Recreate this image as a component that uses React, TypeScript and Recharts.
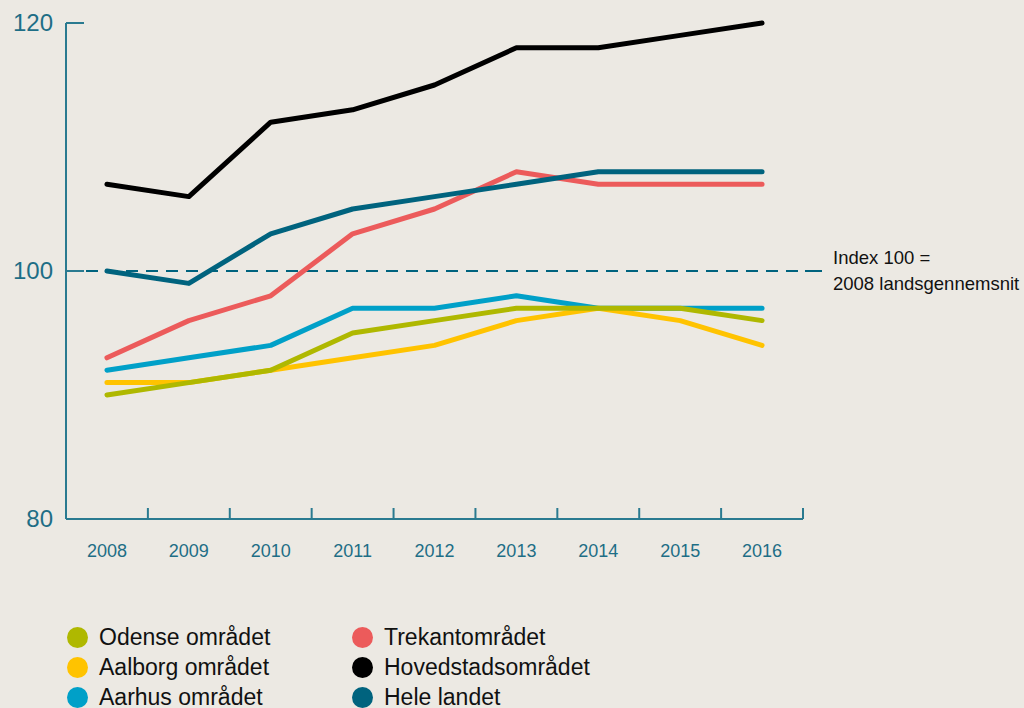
import { LineChart, Line, XAxis, YAxis, ReferenceLine } from "recharts";

const years = ["2008", "2009", "2010", "2011", "2012", "2013", "2014", "2015", "2016"];

const odense = [90, 91, 92, 95, 96, 97, 97, 97, 96];
const aalborg = [91, 91, 92, 93, 94, 96, 97, 96, 94];
const aarhus = [92, 93, 94, 97, 97, 98, 97, 97, 97];
const trekant = [93, 96, 98, 103, 105, 108, 107, 107, 107];
const hoved = [107, 106, 112, 113, 115, 118, 118, 119, 120];
const hele = [100, 99, 103, 105, 106, 107, 108, 108, 108];

const yTicks = [80, 100, 120];

const series = [
  { key: "odense", name: "Odense området", color: "#AFB800", values: odense },
  { key: "aalborg", name: "Aalborg området", color: "#FFC300", values: aalborg },
  { key: "aarhus", name: "Aarhus området", color: "#00A0C8", values: aarhus },
  { key: "trekant", name: "Trekantområdet", color: "#EC5B5B", values: trekant },
  { key: "hoved", name: "Hovedstadsområdet", color: "#000000", values: hoved },
  { key: "hele", name: "Hele landet", color: "#00637E", values: hele },
];

// draw order: lighter lines first, so olive sits over blue etc.
const drawOrder = ["aarhus", "aalborg", "odense", "trekant", "hele", "hoved"];

const data = years.map((year, i) => {
  const row: Record<string, string | number> = { year };
  series.forEach((s) => (row[s.key] = s.values[i]));
  return row;
});

const AXIS = "#2A7A90";
const TEXT = "#1E6E86";
const FONT = "'Liberation Sans', Arial, sans-serif";

const XTick = (props: any) => {
  const { x, y, payload } = props;
  const half = payload?.offset ?? 737 / 18;
  return (
    <g>
      <text x={x} y={y + 38} textAnchor="middle" fill={TEXT} fontSize={18} fontFamily={FONT}>
        {payload.value}
      </text>
      <line x1={x + half} x2={x + half} y1={y} y2={y - 11} stroke={AXIS} strokeWidth={2} />
    </g>
  );
};

const YTick = (props: any) => {
  const { x, y, payload } = props;
  return (
    <g>
      <text x={x - 13} y={y + 8} textAnchor="end" fill={TEXT} fontSize={24} fontFamily={FONT}>
        {payload.value}
      </text>
      {payload.value !== 80 && (
        <line x1={x} x2={x + 18} y1={y} y2={y} stroke={AXIS} strokeWidth={2} />
      )}
    </g>
  );
};

const IndexLabel = (props: any) => {
  const { viewBox } = props;
  const right = viewBox.x + viewBox.width;
  const y = viewBox.y;
  return (
    <g>
      <line x1={right + 2} x2={right + 19} y1={y} y2={y} stroke="#00637E" strokeWidth={2} />
      <text x={right + 30} y={y - 7} fill="#111" fontSize={18.5} fontFamily={FONT}>
        Index 100 =
      </text>
      <text x={right + 30} y={y + 19} fill="#111" fontSize={18.5} fontFamily={FONT}>
        2008 landsgennemsnit
      </text>
    </g>
  );
};

const legendLeft = series.slice(0, 3);
const legendRight = series.slice(3);

const LegendColumn = ({ items, left }: { items: typeof series; left: number }) => (
  <div style={{ position: "absolute", left, top: 622 }}>
    {items.map((s) => (
      <div key={s.key} style={{ display: "flex", alignItems: "center", height: 30 }}>
        <span
          style={{
            width: 21,
            height: 21,
            borderRadius: "50%",
            background: s.color,
            display: "inline-block",
            marginRight: 11,
            flexShrink: 0,
          }}
        />
        <span style={{ fontSize: 23, color: "#111", fontFamily: FONT, whiteSpace: "nowrap" }}>
          {s.name}
        </span>
      </div>
    ))}
  </div>
);

export default function App() {
  return (
    <div
      style={{
        position: "absolute",
        left: 0,
        top: 0,
        width: 1024,
        height: 708,
        background: "#ECE9E3",
        overflow: "hidden",
      }}
    >
      <LineChart
        width={1024}
        height={708}
        data={data}
        margin={{ top: 23, right: 221, left: 8, bottom: 149 }}
      >
        <XAxis
          dataKey="year"
          scale="band"
          height={40}
          tickSize={0}
          tickMargin={0}
          tickLine={false}
          axisLine={{ stroke: AXIS, strokeWidth: 2 }}
          tick={<XTick />}
          interval={0}
        />
        <YAxis
          width={58}
          domain={[80, 120]}
          ticks={yTicks}
          tickSize={0}
          tickMargin={0}
          tickLine={false}
          axisLine={{ stroke: AXIS, strokeWidth: 2 }}
          tick={<YTick />}
        />
        <ReferenceLine
          y={100}
          stroke="#00637E"
          strokeWidth={2}
          strokeDasharray="12 8"
          label={<IndexLabel />}
        />
        {drawOrder.map((k) => {
          const s = series.find((x) => x.key === k)!;
          return (
            <Line
              key={s.key}
              type="linear"
              dataKey={s.key}
              name={s.name}
              stroke={s.color}
              strokeWidth={5}
              strokeLinecap="round"
              strokeLinejoin="round"
              dot={false}
              activeDot={false}
              isAnimationActive={false}
            />
          );
        })}
      </LineChart>
      <LegendColumn items={legendLeft} left={67} />
      <LegendColumn items={legendRight} left={352} />
    </div>
  );
}
